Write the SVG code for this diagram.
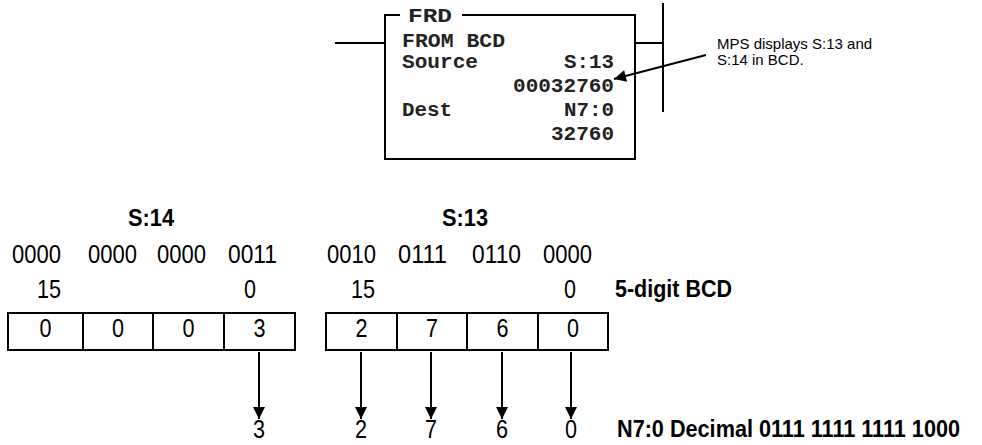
<svg xmlns="http://www.w3.org/2000/svg" width="982" height="445" viewBox="0 0 982 445">
<defs>
<style>
.ln{stroke:#000;stroke-width:2;fill:none}
.mono{font-family:"Liberation Mono","Courier New",monospace;font-weight:bold;font-size:20px;fill:#222}
.sans{font-family:"Liberation Sans",Arial,Helvetica,sans-serif;font-size:25px;fill:#000}
.b{font-weight:bold;font-size:23px}
.note{font-family:"Liberation Sans",Arial,Helvetica,sans-serif;font-size:15px;fill:#000}
</style>
<marker id="ah" viewBox="0 0 12 12" refX="12" refY="6" markerWidth="13" markerHeight="12" markerUnits="userSpaceOnUse" orient="auto">
<path d="M0,0 L12,6 L0,12 Z" fill="#000"/>
</marker>
</defs>
<rect width="982" height="445" fill="#fff"/>

<g id="frd">
<path class="ln" d="M335,43 H385 M400,15 H385 V159 H635 V15 H462 M635,43 H663 M663,3 V112"/>
<text class="mono" x="408" y="22" textLength="44" lengthAdjust="spacingAndGlyphs">FRD</text>
<text class="mono" x="402" y="47" textLength="103" lengthAdjust="spacingAndGlyphs">FROM BCD</text>
<text class="mono" x="402" y="68" textLength="76" lengthAdjust="spacingAndGlyphs">Source</text>
<text class="mono" x="614" y="68" text-anchor="end" textLength="50" lengthAdjust="spacingAndGlyphs">S:13</text>
<text class="mono" x="614" y="92" text-anchor="end" textLength="101" lengthAdjust="spacingAndGlyphs">00032760</text>
<text class="mono" x="402" y="116" textLength="50" lengthAdjust="spacingAndGlyphs">Dest</text>
<text class="mono" x="614" y="116" text-anchor="end" textLength="50" lengthAdjust="spacingAndGlyphs">N7:0</text>
<text class="mono" x="614" y="140" text-anchor="end" textLength="63" lengthAdjust="spacingAndGlyphs">32760</text>
</g>

<g id="note">
<text class="note" x="717" y="49">MPS displays S:13 and</text>
<text class="note" x="717" y="65">S:14 in BCD.</text>
</g>

<g id="s14">
<text class="sans b" x="151" y="226" text-anchor="middle" textLength="46" lengthAdjust="spacingAndGlyphs">S:14</text>
<text class="sans" x="12" y="263" textLength="49" lengthAdjust="spacingAndGlyphs">0000</text>
<text class="sans" x="88" y="263" textLength="49" lengthAdjust="spacingAndGlyphs">0000</text>
<text class="sans" x="157" y="263" textLength="49" lengthAdjust="spacingAndGlyphs">0000</text>
<text class="sans" x="228" y="263" textLength="49" lengthAdjust="spacingAndGlyphs">0011</text>
<text class="sans" x="37" y="298" textLength="24" lengthAdjust="spacingAndGlyphs">15</text>
<text class="sans" x="244" y="298" textLength="12" lengthAdjust="spacingAndGlyphs">0</text>
<path class="ln" d="M8,313 H295 V350 H8 Z M83,313 V350 M153,313 V350 M224,313 V350"/>
<text class="sans" x="45.5" y="337" text-anchor="middle" textLength="12" lengthAdjust="spacingAndGlyphs">0</text>
<text class="sans" x="118" y="337" text-anchor="middle" textLength="12" lengthAdjust="spacingAndGlyphs">0</text>
<text class="sans" x="188.5" y="337" text-anchor="middle" textLength="12" lengthAdjust="spacingAndGlyphs">0</text>
<text class="sans" x="259.5" y="337" text-anchor="middle" textLength="12" lengthAdjust="spacingAndGlyphs">3</text>
</g>

<g id="s13">
<text class="sans b" x="465" y="226" text-anchor="middle" textLength="46" lengthAdjust="spacingAndGlyphs">S:13</text>
<text class="sans" x="327" y="263" textLength="49" lengthAdjust="spacingAndGlyphs">0010</text>
<text class="sans" x="398" y="263" textLength="49" lengthAdjust="spacingAndGlyphs">0111</text>
<text class="sans" x="472" y="263" textLength="49" lengthAdjust="spacingAndGlyphs">0110</text>
<text class="sans" x="543" y="263" textLength="49" lengthAdjust="spacingAndGlyphs">0000</text>
<text class="sans" x="351" y="298" textLength="24" lengthAdjust="spacingAndGlyphs">15</text>
<text class="sans" x="564" y="298" textLength="12" lengthAdjust="spacingAndGlyphs">0</text>
<path class="ln" d="M326,313 H608 V350 H326 Z M397,313 V350 M467,313 V350 M538,313 V350"/>
<text class="sans" x="361.5" y="337" text-anchor="middle" textLength="12" lengthAdjust="spacingAndGlyphs">2</text>
<text class="sans" x="432" y="337" text-anchor="middle" textLength="12" lengthAdjust="spacingAndGlyphs">7</text>
<text class="sans" x="502.5" y="337" text-anchor="middle" textLength="12" lengthAdjust="spacingAndGlyphs">6</text>
<text class="sans" x="573" y="337" text-anchor="middle" textLength="12" lengthAdjust="spacingAndGlyphs">0</text>
</g>

<g id="labels">
<text class="sans b" x="615" y="297" textLength="117" lengthAdjust="spacingAndGlyphs">5-digit BCD</text>
<text class="sans b" x="617" y="437" textLength="343" lengthAdjust="spacingAndGlyphs">N7:0 Decimal 0111 1111 1111 1000</text>
</g>

<g id="result">
<text class="sans" x="259" y="438" text-anchor="middle" textLength="12" lengthAdjust="spacingAndGlyphs">3</text>
<text class="sans" x="361" y="438" text-anchor="middle" textLength="12" lengthAdjust="spacingAndGlyphs">2</text>
<text class="sans" x="431" y="438" text-anchor="middle" textLength="12" lengthAdjust="spacingAndGlyphs">7</text>
<text class="sans" x="502" y="438" text-anchor="middle" textLength="12" lengthAdjust="spacingAndGlyphs">6</text>
<text class="sans" x="571" y="438" text-anchor="middle" textLength="12" lengthAdjust="spacingAndGlyphs">0</text>
</g>

<g id="connectors">
<path class="ln" d="M706,55 L614,79" marker-end="url(#ah)"/>
<path class="ln" d="M259,352 V419" marker-end="url(#ah)"/>
<path class="ln" d="M361,352 V419" marker-end="url(#ah)"/>
<path class="ln" d="M431,352 V419" marker-end="url(#ah)"/>
<path class="ln" d="M502,352 V419" marker-end="url(#ah)"/>
<path class="ln" d="M571,352 V419" marker-end="url(#ah)"/>
</g>
</svg>
